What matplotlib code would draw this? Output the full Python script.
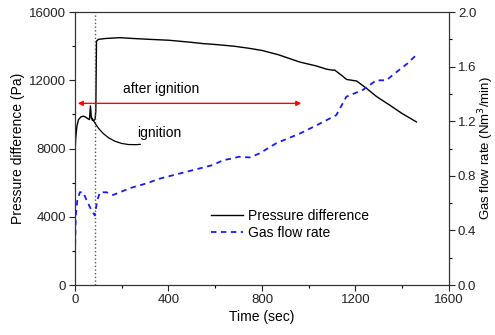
import matplotlib
matplotlib.use("Agg")
import matplotlib.pyplot as plt
import numpy as np

plt.rcParams['font.family'] = ['Liberation Sans', 'DejaVu Sans']

# pressure difference (Pa) vs time (sec)
p_time = [0, 3, 8, 15, 25, 35, 45, 55, 62, 66, 70, 75, 80, 86, 89, 92, 100, 130,
          192, 250, 320, 400, 480, 550, 600, 680, 748, 800, 870, 962, 1030,
          1077, 1100, 1111, 1140, 1162, 1205, 1248, 1290, 1346, 1400, 1461]
p_vals = [7700, 8600, 9300, 9700, 9850, 9900, 9850, 9750, 9700, 10500, 9800, 9650,
          9650, 9700, 10200, 14300, 14400, 14450, 14500, 14450, 14400, 14350,
          14250, 14150, 14100, 14000, 13870, 13750, 13500, 13070, 12850,
          12650, 12600, 12600, 12300, 12050, 11960, 11520, 11050, 10550, 10050, 9560]

# gas flow rate (Nm3/min) vs time (sec)
g_time = [0, 3, 10, 21, 35, 50, 70, 85, 95, 107, 135, 163, 192, 235, 306, 363,
          420, 477, 534, 591, 634, 680, 700, 748, 790, 862, 962, 1033, 1118,
          1161, 1232, 1289, 1332, 1375, 1420, 1460]
g_vals = [0.22, 0.50, 0.62, 0.68, 0.68, 0.62, 0.55, 0.51, 0.62, 0.68, 0.68, 0.66,
          0.68, 0.71, 0.745, 0.78, 0.805, 0.83, 0.855, 0.88, 0.915, 0.93, 0.94,
          0.935, 0.965, 1.04, 1.11, 1.17, 1.245, 1.38, 1.43, 1.50, 1.50, 1.56,
          1.62, 1.685]

ignition_t = 85
arrow_y = 10650
arrow_end = 980

fig = plt.figure(figsize=(4.95, 3.35), dpi=100)
ax = fig.add_axes([0.1515, 0.149, 0.7555, 0.815])
ax2 = ax.twinx()

l1, = ax.plot(p_time, p_vals, color='black', lw=1.0, label='Pressure difference')
l2, = ax2.plot(g_time, g_vals, color='#1a1aee', lw=1.3, ls=(0, (3, 2.5)), label='Gas flow rate')

ax.axvline(ignition_t, color='#555555', ls=':', lw=1.0)

# red arrows: ignition stage and after ignition
ax.annotate('', xy=(0, arrow_y), xytext=(ignition_t, arrow_y),
            arrowprops=dict(arrowstyle='-|>', color='red', lw=1.0, mutation_scale=7))
ax.annotate('', xy=(arrow_end, arrow_y), xytext=(ignition_t - 20, arrow_y),
            arrowprops=dict(arrowstyle='-|>', color='red', lw=1.0, mutation_scale=7))
ax.text(368, 11500, 'after ignition', ha='center', va='center', fontsize=10)

# ignition callout: curved leader from the peak down to the label
ax.annotate('', xy=(73, 9790), xytext=(280, 8250),
            arrowprops=dict(arrowstyle='-', color='black', lw=0.9,
                            connectionstyle='arc3,rad=-0.35',
                            shrinkA=0, shrinkB=0))
ax.text(265, 8900, 'ignition', ha='left', va='center', fontsize=10)

ax.set_xlim(0, 1600)
ax.set_ylim(0, 16000)
ax2.set_ylim(0, 2.0)
ax.set_xticks([0, 400, 800, 1200, 1600])
ax.set_xticks([200, 600, 1000, 1400], minor=True)
ax.set_yticks([0, 4000, 8000, 12000, 16000])
ax.set_yticks([2000, 6000, 10000, 14000], minor=True)
ax2.set_yticks([0.0, 0.4, 0.8, 1.2, 1.6, 2.0])
ax2.set_yticks([0.2, 0.6, 1.0, 1.4, 1.8], minor=True)
ax2.set_yticklabels(['0.0', '0.4', '0.8', '1.2', '1.6', '2.0'])

for a in (ax, ax2):
    a.tick_params(which='major', direction='out', length=4, width=0.8, labelsize=9.5,
                  colors='#222222', pad=2.5)
    a.tick_params(which='minor', direction='out', length=2.5, width=0.8)
    for s in a.spines.values():
        s.set_color('#333333')
        s.set_linewidth(0.8)

ax.set_xlabel('Time (sec)', fontsize=10, labelpad=3)
ax.set_ylabel('Pressure difference (Pa)', fontsize=10, labelpad=3)
ax2.set_ylabel('Gas flow rate (Nm$^3$/min)', fontsize=9.5, labelpad=0)

ax.legend([l1, l2], ['Pressure difference', 'Gas flow rate'], loc='upper left',
          bbox_to_anchor=(0.33, 0.325), frameon=False, fontsize=10,
          handlelength=2.3, handletextpad=0.4, labelspacing=0.2)

fig.savefig('out.png', dpi=100)
